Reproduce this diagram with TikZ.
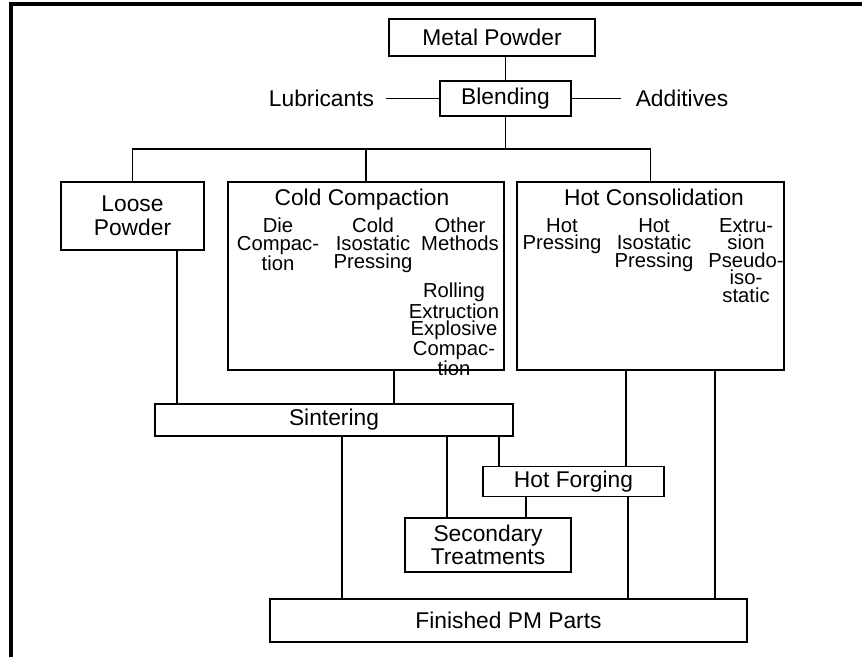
\documentclass[tikz,border=0pt]{standalone}
\usepackage{fontspec}
\setmainfont{Liberation Sans}
\usetikzlibrary{positioning,calc}

\begin{document}
\begin{tikzpicture}[x=0.025cm,y=-0.025cm, box/.style={draw,line width=1.2pt,inner sep=0pt,align=center,font=\fontsize{16.2}{16.8}\selectfont}, label/.style={inner sep=0pt,align=center,font=\fontsize{16.2}{16.8}\selectfont}, sub/.style={inner sep=0pt,align=center,anchor=north,font=\fontsize{14.4}{12.5}\selectfont}, link/.style={line width=1.2pt}]

\useasboundingbox (0,0) rectangle (862,657);
% frame
\draw[line width=2.6pt] (11,657) -- (11,4) -- (862,4);

% top of the chart
\node[box,minimum width=5.15cm,minimum height=0.925cm] (metal) at (492,37.5) {Metal Powder};
\node[box,minimum width=3.275cm,minimum height=0.875cm] (blend) at (505.5,98.5) {Blending};
\node[label,inner xsep=0.3cm] (lub) at (321.5,98.5) {Lubricants};
\node[label,inner xsep=0.375cm] (add) at (682,98.5) {Additives};

% the three routes
\node[box,minimum width=3.575cm,minimum height=1.7cm] (loose) at (132.5,216) {Loose\\Powder};
\node[box,minimum width=6.9cm,minimum height=4.7cm] (cold) at (366,276) {};
\node[box,minimum width=6.675cm,minimum height=4.7cm] (hot) at (650.5,276) {};

% inside cold compaction
\node[label,anchor=base] (coldtitle) at (362,205) {Cold Compaction};
\node[sub] (die) at (278,218) {Die\\Compac-\\tion};
\node[sub] (cip) at (373,218) {Cold\\Isostatic\\Pressing};
\node[sub] (other) at (460,218) {Other\\Methods};
\node[sub] (roll) at (454,283) {Rolling\\Extruction\\Explosive\\Compac-\\tion};

% inside hot consolidation
\node[label,anchor=base] (hottitle) at (654,205) {Hot Consolidation};
\node[sub] (hp) at (562,218) {Hot\\Pressing};
\node[sub] (hip) at (654,218) {Hot\\Isostatic\\Pressing};
\node[sub] (extr) at (746,218) {Extru-\\sion\\Pseudo-\\iso-\\static};

% lower part
\node[box,minimum width=8.95cm,minimum height=0.8cm] (sinter) at (334,420) {Sintering};
\node[box,minimum width=4.525cm,minimum height=0.75cm] (forge) at (573.5,481.5) {Hot Forging};
\node[box,minimum width=4.15cm,minimum height=1.35cm] (second) at (488,545) {Secondary\\Treatments};
\node[box,minimum width=11.925cm,minimum height=1.075cm] (finish) at (508.5,620.5) {Finished PM Parts};

% connectors
\draw[link] (blend.north) -- (blend.north |- metal.south);
\draw[link] (lub.east) -- (blend.west);
\draw[link] (blend.east) -- (add.west);
\draw[link] (blend.south) -- ++(0,32) coordinate (split);
\draw[link] (loose.north) |- (split) -| (hot.north);
\draw[link] (cold.north) -- (cold.north |- split);

\draw[link] ([xshift=1.1125cm]loose.south) -- ([xshift=1.1125cm]loose.south |- sinter.north);
\draw[link] ([xshift=0.7cm]cold.south) -- ([xshift=0.7cm]cold.south |- sinter.north);
\draw[link] ([xshift=0.2cm]sinter.south) -- ([xshift=0.2cm]sinter.south |- finish.north);
\draw[link] ([xshift=-1.025cm]second.north) -- ([xshift=-1.025cm]second.north |- sinter.south);
\draw[link] ([xshift=-1.8625cm]forge.north) -- ([xshift=-1.8625cm]forge.north |- sinter.south);
\draw[link] ([xshift=0.95cm]second.north) -- ([xshift=0.95cm]second.north |- forge.south);
\draw[link] ([xshift=-0.6125cm]hot.south) -- ([xshift=-0.6125cm]hot.south |- forge.north);
\draw[link] ([xshift=-0.5625cm]hot.south |- forge.south) -- ([xshift=-0.5625cm]hot.south |- finish.north);
\draw[link] ([xshift=1.6125cm]hot.south) -- ([xshift=1.6125cm]hot.south |- finish.north);

\end{tikzpicture}
\end{document}
